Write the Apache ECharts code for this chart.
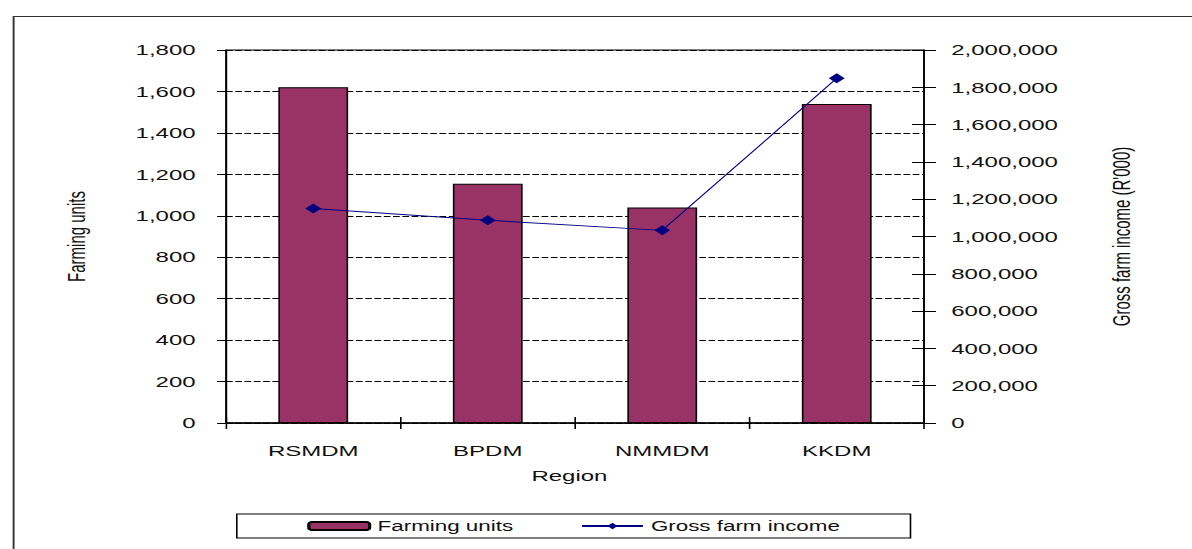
<!DOCTYPE html>
<html>
<head>
<meta charset="utf-8">
<script src="https://cdn.jsdelivr.net/npm/echarts@6/dist/echarts.min.js"></script>
<style>
  html, body { margin: 0; padding: 0; background: #fff; overflow: hidden; }
  #wrap { width: 1192px; height: 549px; overflow: hidden; }
  #chart { width: 745px; height: 549px; transform: scaleX(1.6); transform-origin: 0 0; }
</style>
</head>
<body>
<div id="wrap"><div id="chart"></div></div>
<script>
const categories = ['RSMDM', 'BPDM', 'NMMDM', 'KKDM'];
const farmingUnits = [1620, 1155, 1040, 1540];
const grossFarmIncome = [1150000, 1087000, 1033000, 1848000];
const leftAxis = { min: 0, max: 1800, interval: 200 };
const rightAxis = { min: 0, max: 2000000, interval: 200000 };

const FONT = "'Liberation Sans', Arial, sans-serif";
const fmt = v => Number(v).toLocaleString('en-US');

const chart = echarts.init(document.getElementById('chart'), null, { renderer: 'svg' });
chart.setOption({
  animation: false,
  backgroundColor: '#fff',
  textStyle: { fontFamily: FONT, color: '#111' },
  graphic: [{
    type: 'rect', left: 6, top: 14, silent: true,
    shape: { width: 1000, height: 800 },
    style: { fill: 'none', stroke: '#333', lineWidth: 1.2 }
  }],
  grid: {
    left: 141.25, right: 167.5, top: 50, bottom: 126,
    show: true, borderColor: '#000', borderWidth: 1, backgroundColor: 'transparent'
  },
  legend: {
    left: 148, top: 514,
    padding: [5, 44, 5, 44],
    borderColor: '#000', borderWidth: 1,
    itemWidth: 38, itemHeight: 8, itemGap: 42,
    textStyle: { fontFamily: FONT, fontSize: 14, color: '#111' },
    data: ['Farming units', 'Gross farm income']
  },
  xAxis: [{
    type: 'category', data: categories, position: 'bottom',
    name: 'Region', nameLocation: 'middle', nameGap: 45,
    nameTextStyle: { fontFamily: FONT, fontSize: 15, color: '#111', padding: [0, 7, 0, 0] },
    axisLine: { show: true, lineStyle: { color: '#000', width: 1.5 } },
    axisTick: { show: true, length: 6, lineStyle: { color: '#000' } },
    axisLabel: { fontFamily: FONT, fontSize: 15, color: '#111', margin: 20 },
    splitLine: { show: false }
  }, {
    type: 'category', data: categories, position: 'bottom',
    axisLine: { show: false },
    axisTick: { show: true, inside: true, length: 6, lineStyle: { color: '#000' } },
    axisLabel: { show: false },
    splitLine: { show: false }
  }],
  yAxis: [{
    type: 'value', position: 'left',
    min: leftAxis.min, max: leftAxis.max, interval: leftAxis.interval,
    name: 'Farming units', nameLocation: 'middle', nameGap: 86,
    nameTextStyle: { fontFamily: FONT, fontSize: 15, color: '#111' },
    axisLine: { show: true, lineStyle: { color: '#000' } },
    axisTick: { show: true, length: 5.6, lineStyle: { color: '#000' } },
    axisLabel: { fontFamily: FONT, fontSize: 15, color: '#111', margin: 19, formatter: fmt },
    splitLine: { show: true, lineStyle: { color: '#000', type: [4.2, 1.6], width: 1.2 } }
  }, {
    type: 'value', position: 'right',
    min: rightAxis.min, max: rightAxis.max, interval: rightAxis.interval,
    name: "Gross farm income (R'000)", nameLocation: 'middle', nameGap: 116, nameRotate: 90,
    nameTextStyle: { fontFamily: FONT, fontSize: 15, color: '#111' },
    axisLine: { show: true, lineStyle: { color: '#000' } },
    axisTick: { show: true, length: 7.5, lineStyle: { color: '#000' } },
    axisLabel: { fontFamily: FONT, fontSize: 15, color: '#111', margin: 17, formatter: fmt },
    splitLine: { show: false }
  }, {
    type: 'value', position: 'right',
    min: rightAxis.min, max: rightAxis.max, interval: rightAxis.interval,
    axisLine: { show: false },
    axisTick: { show: true, inside: true, length: 7.5, lineStyle: { color: '#000' } },
    axisLabel: { show: false },
    splitLine: { show: false }
  }],
  series: [{
    name: 'Farming units', type: 'bar', xAxisIndex: 0, yAxisIndex: 0,
    data: farmingUnits, barWidth: '40%',
    itemStyle: { color: '#993366', borderColor: '#000', borderWidth: 1 }
  }, {
    name: 'Gross farm income', type: 'line', xAxisIndex: 0, yAxisIndex: 1,
    data: grossFarmIncome,
    symbol: 'diamond', symbolSize: [10, 10],
    lineStyle: { color: '#000080', width: 0.9 },
    itemStyle: { color: '#000080' }
  }]
});
</script>
</body>
</html>
